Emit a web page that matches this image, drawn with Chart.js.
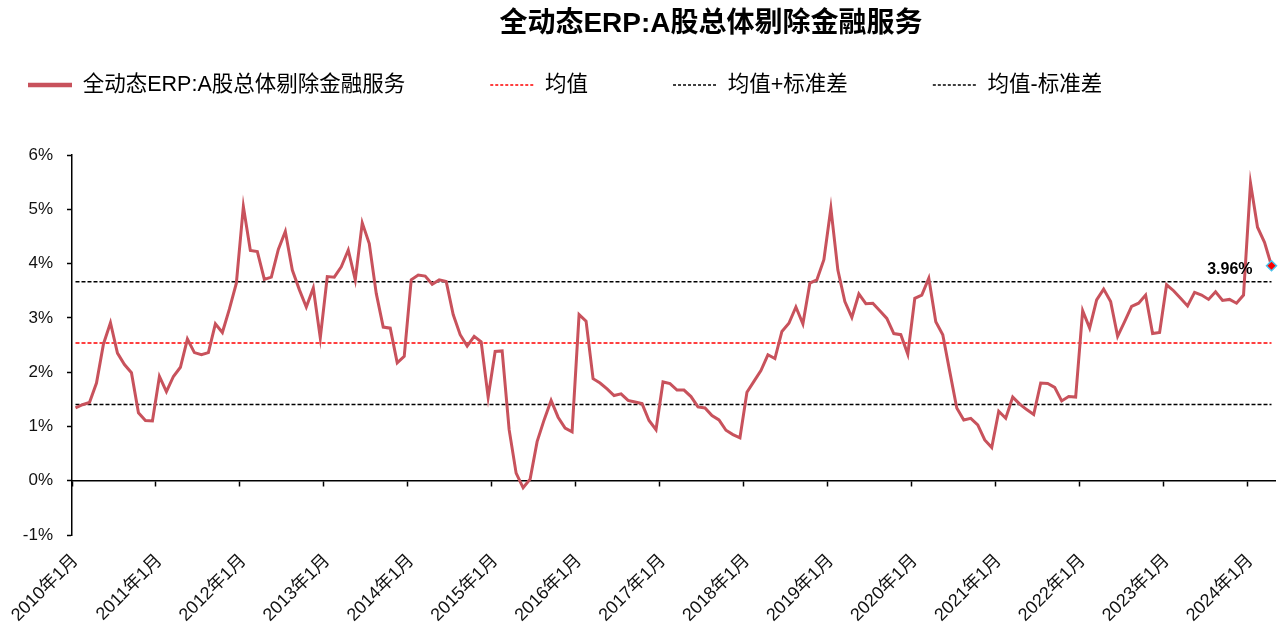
<!DOCTYPE html>
<html>
<head>
<meta charset="utf-8">
<script src="https://cdn.jsdelivr.net/npm/chart.js@4.4.1/dist/chart.umd.min.js"></script>
<style>html,body{margin:0;padding:0;background:#fff;}</style>
</head>
<body>
<canvas id="c" width="1282" height="628"></canvas>
<script>
// ---------- data ----------
const chartTitle = '全动态ERP:A股总体剔除金融服务';
const seriesName = '全动态ERP:A股总体剔除金融服务';
const meanName = '均值';
const upperName = '均值+标准差';
const lowerName = '均值-标准差';

const startYear = 2010;
const monthCount = 172; // 2010年1月 ... 2024年4月

// 全动态ERP (%) monthly
const erp = [
  1.34, 1.40, 1.44, 1.80, 2.52, 2.91, 2.35, 2.14, 1.99, 1.25, 1.11, 1.10,
  1.92, 1.64, 1.92, 2.09, 2.61, 2.36, 2.32, 2.36, 2.89, 2.73, 3.16, 3.64,
  5.05, 4.24, 4.22, 3.71, 3.75, 4.26, 4.59, 3.88, 3.52, 3.20, 3.55, 2.63,
  3.76, 3.75, 3.94, 4.25, 3.70, 4.75, 4.37, 3.45, 2.83, 2.81, 2.17, 2.29,
  3.70, 3.79, 3.77, 3.62, 3.70, 3.67, 3.06, 2.69, 2.48, 2.66, 2.56, 1.54,
  2.38, 2.39, 0.94, 0.14, -0.13, 0.03, 0.72, 1.12, 1.48, 1.17, 0.97, 0.90,
  3.06, 2.94, 1.88, 1.80, 1.69, 1.57, 1.60, 1.48, 1.45, 1.42, 1.11, 0.94,
  1.82, 1.79, 1.67, 1.67, 1.55, 1.36, 1.34, 1.20, 1.12, 0.93, 0.85, 0.79,
  1.63, 1.83, 2.03, 2.32, 2.25, 2.75, 2.90, 3.20, 2.89, 3.64, 3.70, 4.07,
  5.02, 3.88, 3.30, 3.01, 3.44, 3.26, 3.27, 3.13, 2.99, 2.71, 2.69, 2.33,
  3.36, 3.42, 3.73, 2.93, 2.69, 2.01, 1.34, 1.12, 1.15, 1.03, 0.75, 0.61,
  1.28, 1.15, 1.54, 1.41, 1.31, 1.22, 1.80, 1.79, 1.72, 1.47, 1.55, 1.54,
  3.13, 2.81, 3.33, 3.53, 3.30, 2.66, 2.93, 3.21, 3.27, 3.42, 2.71, 2.73,
  3.61, 3.50, 3.36, 3.22, 3.47, 3.42, 3.34, 3.48, 3.32, 3.34, 3.27, 3.42,
  5.48, 4.67, 4.39, 3.96
];

// reference levels (%)
const meanValue = 2.535;
const upperValue = 3.665;
const lowerValue = 1.405;

// y-axis ticks
const yMin = -1, yMax = 6, yStep = 1;

// categories
const categories = [];
for (let i = 0; i < monthCount; i++) {
  const y = startYear + Math.floor(i / 12);
  const m = (i % 12) + 1;
  categories.push(y + '年' + m + '月');
}
const meanLine = categories.map(() => meanValue);
const upperLine = categories.map(() => upperValue);
const lowerLine = categories.map(() => lowerValue);

// ---------- styling ----------
const FONT = "'Liberation Sans', 'Noto Sans CJK SC', sans-serif";
const LINE_COLOR = '#c8525c';
const LEGEND_X = 28, LEGEND_CY = 85, LEGEND_GAP = 85, LEGEND_FONT = 21.5;
const TITLE_CX = 711;

const tweak = {
  id: 'tweak',
  afterLayout(chart) {
    const lg = chart.legend;
    if (lg) {
      lg.left = LEGEND_X - LEGEND_GAP;
      lg.top = LEGEND_CY - LEGEND_GAP - LEGEND_FONT / 2;
    }
    const tb = chart.titleBlock;
    if (tb) {
      tb.left = 2 * TITLE_CX - tb.right;
    }
  },
  afterDatasetsDraw(chart) {
    const meta = chart.getDatasetMeta(0);
    const data = chart.data.datasets[0].data;
    const pt = meta.data[data.length - 1];
    if (!pt) return;
    const ctx = chart.ctx;
    ctx.save();
    ctx.font = 'bold 16px ' + FONT;
    ctx.fillStyle = '#000';
    ctx.textAlign = 'right';
    ctx.textBaseline = 'middle';
    ctx.fillText(data[data.length - 1].toFixed(2) + '%', pt.x - 19, pt.y + 3.5);
    ctx.restore();
  }
};

const lastIdx = erp.length - 1;

new Chart(document.getElementById('c'), {
  type: 'line',
  data: {
    labels: categories,
    datasets: [
      {
        label: seriesName,
        data: erp,
        borderColor: LINE_COLOR,
        borderWidth: 3,
        tension: 0,
        pointRadius: (c) => c.dataIndex === lastIdx ? 5 : 0,
        pointStyle: 'rectRot',
        pointBackgroundColor: '#ff0000',
        pointBorderColor: '#4cc2ea',
        pointBorderWidth: 1.5
      },
      {
        label: meanName, data: meanLine, borderColor: '#ff0000', borderWidth: 1.5,
        borderDash: [4, 2], pointRadius: 0
      },
      {
        label: upperName, data: upperLine, borderColor: '#000000', borderWidth: 1.5,
        borderDash: [4, 2], pointRadius: 0
      },
      {
        label: lowerName, data: lowerLine, borderColor: '#000000', borderWidth: 1.5,
        borderDash: [4, 2], pointRadius: 0
      }
    ]
  },
  options: {
    responsive: false,
    animation: false,
    events: [],
    layout: { padding: { left: 0, right: 7, top: 0, bottom: 0 } },
    plugins: {
      tooltip: { enabled: false },
      title: {
        display: true,
        text: chartTitle,
        color: '#000',
        font: { family: FONT, size: 28, weight: 'bold', lineHeight: 1.2 },
        padding: { top: 7, bottom: 0 }
      },
      legend: {
        display: true,
        position: 'top',
        align: 'start',
        maxHeight: 114.4,
        labels: {
          padding: LEGEND_GAP,
          boxWidth: 44,
          boxHeight: 0,
          color: '#111',
          font: { family: FONT, size: LEGEND_FONT },
          generateLabels(chart) {
            return chart.data.datasets.map((ds, i) => ({
              text: ds.label,
              fillStyle: ds.borderColor,
              strokeStyle: ds.borderColor,
              lineWidth: i === 0 ? 4.5 : 1.5,
              lineDash: i === 0 ? [] : [3, 2],
              lineCap: 'butt',
              hidden: false,
              datasetIndex: i
            }));
          }
        }
      }
    },
    scales: {
      x: {
        type: 'category',
        position: 'bottom',
        offset: true,
        grid: { display: false },
        border: { display: false },
        afterFit(s) { s.height = 93; s.paddingLeft = 0; s.paddingRight = 0; },
        ticks: {
          autoSkip: false,
          maxRotation: 45,
          minRotation: 45,
          padding: 7,
          color: '#111',
          font: { family: FONT, size: 18 },
          callback(v, i) { return i % 12 === 0 ? this.getLabelForValue(v) : ''; }
        }
      },
      x2: {
        type: 'category',
        axis: 'x',
        position: { y: 0 },
        offset: true,
        afterFit(s) { s.paddingLeft = 0; s.paddingRight = 0; },
        grid: {
          display: true,
          offset: true,
          drawOnChartArea: false,
          drawTicks: true,
          tickLength: 5,
          tickWidth: 1.5,
          color: '#000',
          tickColor: (c) => (c.index % 12 === 0 ? '#000' : 'rgba(0,0,0,0)')
        },
        border: { display: true, color: '#000', width: 1.5 },
        ticks: { display: false, autoSkip: false }
      },
      y: {
        min: yMin,
        max: yMax,
        afterFit(s) { s.width = 72; },
        grid: {
          display: true,
          drawOnChartArea: false,
          drawTicks: true,
          tickLength: 5,
          tickWidth: 1.5,
          color: '#000',
          tickColor: '#000'
        },
        border: { display: true, color: '#000', width: 1.5 },
        ticks: {
          stepSize: yStep,
          padding: 14,
          color: '#111',
          font: { family: FONT, size: 17 },
          callback: (v) => v + '%'
        }
      }
    }
  },
  plugins: [tweak]
});
</script>
</body>
</html>
